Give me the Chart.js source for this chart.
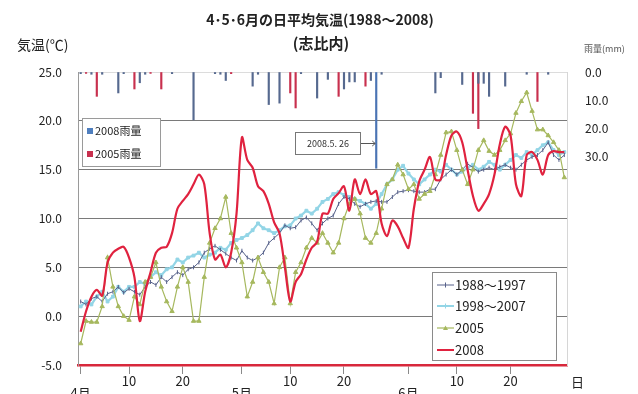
<!DOCTYPE html>
<html>
<head>
<meta charset="utf-8">
<script src="https://cdn.jsdelivr.net/npm/chart.js@4/dist/chart.umd.min.js"></script>
<style>
  html, body { margin: 0; padding: 0; background: #fff; }
  #wrap { width: 638px; height: 394px; position: relative; }
</style>
</head>
<body>
<div id="wrap"><canvas id="c" width="638" height="394"></canvas></div>
<script>
// Months shown on the x axis and their lengths (April–June)
const monthNames = ['4月', '5月', '6月'];
const monthLengths = [30, 31, 30];

// Daily mean temperature (°C), one value per day from April 1 to June 30
const temp1988_1997 = [
  1.5, 1.2, 1.8, 2.0, 1.5, 2.3, 2.5, 3.0, 2.4, 2.8,
  2.5, 2.2, 3.0, 3.5, 3.2, 4.0, 3.5, 4.0, 4.5, 4.2,
  4.8, 5.0, 5.5, 6.5, 6.9, 7.2, 6.8, 6.4, 6.0, 5.7,
  6.7, 6.0, 5.7, 6.0, 6.5, 7.5, 8.0, 8.5, 9.3, 9.0,
  9.1, 9.8, 10.1, 9.5, 8.8, 9.5, 10.0, 10.3, 11.5, 12.2,
  12.0, 11.5, 11.2, 11.5, 11.7, 11.8, 11.7, 11.7, 12.2, 12.7,
  12.8, 12.9, 12.8, 12.7, 12.7, 13.0, 13.0, 14.0, 14.5, 15.0,
  14.5, 15.0, 15.6, 15.2, 14.8, 15.0, 15.2, 15.0, 15.3, 15.5,
  15.2, 15.0, 15.5, 16.0, 16.3, 16.5, 17.0, 17.8, 16.5, 16.0,
  16.5
];
const temp1998_2007 = [
  1.0, 1.5, 1.2, 2.0, 2.5, 1.5, 2.0, 3.0, 2.5, 3.0,
  3.0, 3.5, 3.3, 4.0, 4.5, 4.2, 4.8, 5.0, 5.8, 5.5,
  6.0, 6.2, 6.5, 6.0, 6.3, 6.5, 7.0, 6.8, 7.5, 7.8,
  8.0, 8.3, 8.8, 9.5, 9.0, 8.8, 8.5, 8.8, 9.2, 9.3,
  10.0, 10.3, 10.8, 10.5, 11.0, 11.7, 12.0, 12.5, 12.7, 12.4,
  12.2, 12.0, 11.8, 11.5, 11.0, 11.5, 12.5, 13.5, 14.0, 15.0,
  15.4, 14.6, 14.0, 13.5, 14.0, 14.5, 15.0, 14.8, 15.5, 15.0,
  14.5, 14.8, 15.2, 15.5, 15.0, 15.3, 15.8, 15.5, 15.0, 15.5,
  16.0, 16.5, 16.2, 16.8, 16.5, 17.0, 17.5, 17.8, 17.0, 16.5,
  16.8
];
const temp2005 = [
  -2.8, -0.5, -0.6, -0.6, 1.0, 6.0, 3.0, 1.0, 0.0, -0.4,
  2.0, 1.2, 3.5, 4.0, 5.5, 3.0, 1.5, 0.5, 3.0, 5.0,
  3.5, -0.5, -0.5, 4.0, 7.5, 9.0, 10.0, 12.2, 8.5, 7.0,
  5.5, 2.0, 3.5, 6.0, 4.5, 3.5, 1.3, 5.0, 6.0, 1.3,
  4.5, 5.5, 7.0, 8.0, 7.5, 8.5, 7.5, 6.5, 7.5, 10.0,
  11.5, 12.0, 10.5, 8.0, 7.5, 8.5, 11.0, 13.5, 14.0, 15.5,
  14.5, 13.0, 13.5, 12.0, 12.5, 12.8, 14.5, 16.5, 18.8, 18.9,
  17.0, 15.0, 13.5, 15.0, 17.0, 18.0, 16.9, 16.5, 17.0, 18.0,
  18.7, 20.8, 22.0, 22.9, 21.0, 19.1, 19.1, 18.5, 17.8, 17.0,
  14.2
];
const temp2008 = [
  -1.6, 0.5, 2.0, 2.7, 2.1, 5.5, 6.5, 6.9, 7.1, 6.0,
  4.0, -0.5, 2.5, 4.5, 6.5, 7.0, 7.1, 8.5, 11.0, 11.8,
  12.5, 13.5, 14.5, 13.5, 8.5, 5.8, 6.3, 5.0, 6.5, 10.5,
  18.3, 16.0, 15.2, 13.3, 12.8, 11.5, 9.6, 8.5, 5.0, 1.5,
  3.5, 4.3, 5.8, 7.0, 7.6, 10.5, 10.5, 12.0, 12.6, 13.3,
  10.8, 14.0, 12.5, 14.0, 12.5, 12.8, 9.5, 8.2, 9.8, 9.2,
  8.0, 7.0, 11.0, 13.8, 15.0, 16.3, 14.0, 14.0, 16.5, 18.5,
  18.9, 17.8, 15.0, 12.3, 10.8, 11.5, 12.5, 14.5, 17.6, 19.4,
  18.5, 13.5, 12.3, 16.5, 16.8, 16.0, 14.5, 16.5, 16.9, 16.8,
  16.8
];

// Daily rainfall (mm)
const rain2008 = [
  0.6, null, 0.8, null, 0.8, null, null, 7.4, 0.6, null,
  null, 3.8, 0.8, null, null, null, null, 0.6, null, null,
  null, 16.9, null, null, null, 0.6, 0.8, 3.0, null, null,
  null, null, 5.0, 0.8, null, 11.5, null, 11.0, null, null,
  null, 0.6, null, null, 9.2, null, 2.6, null, null, 6.0,
  3.5, 3.5, null, null, 3.0, 34.0, 0.8, null, null, null,
  null, null, null, null, null, null, 7.4, 2.0, null, null,
  null, 4.4, null, null, 4.0, 4.0, 8.6, null, null, 5.0,
  null, null, null, 0.8, null, null, null, 0.8, null, null,
  null
];
const rain2005 = [
  null, 0.5, null, 8.6, null, null, null, null, null, null,
  6.0, null, null, 0.5, null, 6.0, null, null, null, null,
  null, null, null, null, null, null, null, null, 0.6, null,
  null, null, null, null, null, null, null, null, null, 7.4,
  12.7, null, null, null, null, null, null, null, 8.6, null,
  null, null, null, 5.0, null, null, null, null, null, null,
  null, null, null, null, null, null, null, null, null, null,
  null, null, null, 14.6, 20.0, null, null, null, null, null,
  null, null, null, null, null, 10.4, null, null, null, null,
  null
];

// Axis tick values
const tempTicks = [-5, 0, 5, 10, 15, 20, 25];
const rainTicks = [0, 10, 20, 30];
const dayTicks = [10, 20];

// Category labels: one per day, remembering month and day number
const categories = [];
const dayOfMonth = [];
const monthOfDay = [];
monthNames.forEach((m, mi) => {
  for (let d = 1; d <= monthLengths[mi]; d++) {
    categories.push(m + d + '日');
    dayOfMonth.push(d);
    monthOfDay.push(m);
  }
});
const annotatedDay = categories.indexOf('5月26日');

const FONT = '"Noto Sans CJK JP", "Noto Sans", sans-serif';
const C1988 = '#56618a';
const C1998 = '#93d5e6';
const C2005 = '#a6b85e';
const C2008 = '#e0223f';
const CRAIN08 = '#56698f';
const CRAIN05 = '#c8304e';

const decor = {
  id: 'decor',
  afterDraw(chart) {
    const ctx = chart.ctx;
    ctx.save();
    ctx.fillStyle = '#222';
    ctx.textBaseline = 'middle';
    // Titles
    ctx.textAlign = 'center';
    ctx.font = 'bold 14px ' + FONT;
    ctx.fillText('4･5･6月の日平均気温(1988～2008)', 320, 20);
    ctx.font = 'bold 15px ' + FONT;
    ctx.fillText('(志比内)', 321, 43);
    // Axis captions
    ctx.textAlign = 'left';
    ctx.font = '14px ' + FONT;
    ctx.fillText('気温(℃)', 17, 45);
    ctx.font = '9px ' + FONT;
    ctx.fillStyle = '#555';
    ctx.fillText('雨量(mm)', 584, 49);
    ctx.fillStyle = '#222';
    ctx.font = '13px ' + FONT;
    ctx.fillText('日', 571, 382);

    const ds = chart.data.datasets;
    // Rainfall legend
    ctx.fillStyle = '#fff';
    ctx.fillRect(82, 118, 78, 48);
    ctx.strokeStyle = '#9a9a9a';
    ctx.lineWidth = 1;
    ctx.strokeRect(82.5, 118.5, 78, 48);
    ctx.font = '11px ' + FONT;
    [[ds[0], 131, '#4f7fbf'], [ds[1], 154, ds[1].backgroundColor]].forEach(([d, y, col]) => {
      ctx.fillStyle = col;
      ctx.fillRect(87, y - 3, 6, 6);
      ctx.fillStyle = '#222';
      ctx.fillText(d.label, 95, y);
    });

    // Temperature legend
    ctx.fillStyle = '#fff';
    ctx.fillRect(432, 272, 124, 88);
    ctx.strokeStyle = '#8a8a8a';
    ctx.strokeRect(432.5, 272.5, 124, 88);
    ctx.font = '13px ' + FONT;
    const rows = [[ds[2], 285], [ds[3], 306], [ds[4], 328], [ds[5], 350]];
    rows.forEach(([d, y]) => {
      ctx.strokeStyle = d.borderColor;
      ctx.lineWidth = Math.min(d.borderWidth, 2);
      ctx.beginPath();
      ctx.moveTo(437, y);
      ctx.lineTo(454, y);
      ctx.stroke();
      if (d.pointRadius > 0) {
        ctx.fillStyle = d.borderColor;
        ctx.lineWidth = 1;
        ctx.beginPath();
        if (d.pointStyle === 'triangle') {
          ctx.moveTo(445.5, y - 2.5); ctx.lineTo(448, y + 2); ctx.lineTo(443, y + 2);
          ctx.closePath(); ctx.fill();
        } else {
          ctx.moveTo(445.5, y - 2.5); ctx.lineTo(445.5, y + 2.5); ctx.stroke();
        }
      }
      ctx.fillStyle = '#222';
      ctx.fillText(d.label, 455, y);
    });

    // Callout for the heavy rain day
    const bx = chart.scales.x.getPixelForValue(annotatedDay);
    ctx.fillStyle = '#fff';
    ctx.fillRect(295, 132, 65, 22);
    ctx.strokeStyle = '#777';
    ctx.lineWidth = 1;
    ctx.strokeRect(295.5, 132.5, 65, 22);
    ctx.fillStyle = '#333';
    ctx.font = '9px ' + FONT;
    ctx.textAlign = 'center';
    ctx.fillText('2008.5. 26', 328, 144);
    ctx.strokeStyle = '#555';
    ctx.beginPath();
    ctx.moveTo(361, 143.5);
    ctx.lineTo(bx - 1, 143.5);
    ctx.moveTo(bx - 4, 141);
    ctx.lineTo(bx - 1, 143.5);
    ctx.lineTo(bx - 4, 146);
    ctx.stroke();
    ctx.restore();
  }
};

new Chart(document.getElementById('c'), {
  data: {
    labels: categories,
    datasets: [
      { type: 'bar', label: '2008雨量', data: rain2008, yAxisID: 'rain',
        backgroundColor: (c) => c.dataIndex === annotatedDay ? '#4a74b4' : CRAIN08,
        barThickness: 1.5, grouped: false, order: 5 },
      { type: 'bar', label: '2005雨量', data: rain2005, yAxisID: 'rain',
        backgroundColor: CRAIN05, barThickness: 1.5, grouped: false, order: 5 },
      { type: 'line', label: '1988～1997', data: temp1988_1997, yAxisID: 'temp',
        borderColor: C1988, backgroundColor: C1988, borderWidth: 1,
        pointStyle: 'line', pointRotation: 90, pointRadius: 2, pointBorderWidth: 1, tension: 0, order: 3 },
      { type: 'line', label: '1998～2007', data: temp1998_2007, yAxisID: 'temp',
        borderColor: C1998, backgroundColor: C1998, borderWidth: 2.2,
        pointStyle: 'rect', pointRadius: 2, pointBorderWidth: 1, tension: 0, order: 4 },
      { type: 'line', label: '2005', data: temp2005, yAxisID: 'temp',
        borderColor: C2005, backgroundColor: C2005, borderWidth: 1.2,
        pointStyle: 'triangle', pointRadius: 2.5, pointBorderWidth: 1, tension: 0, order: 2 },
      { type: 'line', label: '2008', data: temp2008, yAxisID: 'temp',
        borderColor: C2008, backgroundColor: C2008, borderWidth: 2.2,
        pointRadius: 0, tension: 0.3, order: 1 }
    ]
  },
  options: {
    responsive: false,
    animation: false,
    devicePixelRatio: 1,
    layout: { padding: { top: 72, left: 0, right: 0, bottom: 0 } },
    plugins: { legend: { display: false }, tooltip: { enabled: false }, title: { display: false } },
    scales: {
      x: {
        type: 'category',
        offset: true,
        grid: {
          offset: false,
          drawOnChartArea: false,
          drawTicks: true,
          tickLength: 9,
          color: (c) => {
            const i = c.index;
            return (dayOfMonth[i] === 1 || dayTicks.includes(dayOfMonth[i])) ? '#8a8a8a' : 'rgba(0,0,0,0)';
          }
        },
        border: { color: '#d8283c', width: 2.5 },
        ticks: {
          autoSkip: false,
          maxRotation: 0,
          minRotation: 0,
          padding: 1,
          color: '#222',
          font: { family: FONT, size: 13, lineHeight: 0.95 },
          callback: (v, i) => {
            const d = dayOfMonth[i];
            if (d === 1) return ['', monthOfDay[i]];
            if (dayTicks.includes(d)) return String(d);
            return '';
          }
        },
        afterFit: (s) => { s.height = 29; }
      },
      temp: {
        type: 'linear',
        position: 'left',
        min: -5, max: 25,
        afterBuildTicks: (s) => { s.ticks = tempTicks.map(v => ({ value: v })); },
        grid: {
          drawTicks: false,
          color: (c) => c.tick.value === 25 ? '#dcdcdc' : (c.tick.value === -5 ? 'rgba(0,0,0,0)' : '#7a7a7a'),
          lineWidth: 1
        },
        border: { color: '#9a9a9a' },
        ticks: {
          padding: 16,
          color: '#222',
          font: { family: FONT, size: 12 },
          callback: (v) => Number(v).toFixed(1)
        },
        afterFit: (s) => { s.width = 78; }
      },
      rain: {
        type: 'linear',
        position: 'right',
        reverse: true,
        min: 0, max: 103.5,
        afterBuildTicks: (s) => { s.ticks = rainTicks.map(v => ({ value: v })); },
        grid: { drawOnChartArea: false, drawTicks: false },
        border: { color: '#d6d6d6' },
        ticks: {
          padding: 18,
          color: '#222',
          font: { family: FONT, size: 12 },
          callback: (v) => Number(v).toFixed(1)
        },
        afterFit: (s) => { s.width = 71; }
      }
    }
  },
  plugins: [decor]
});
</script>
</body>
</html>
